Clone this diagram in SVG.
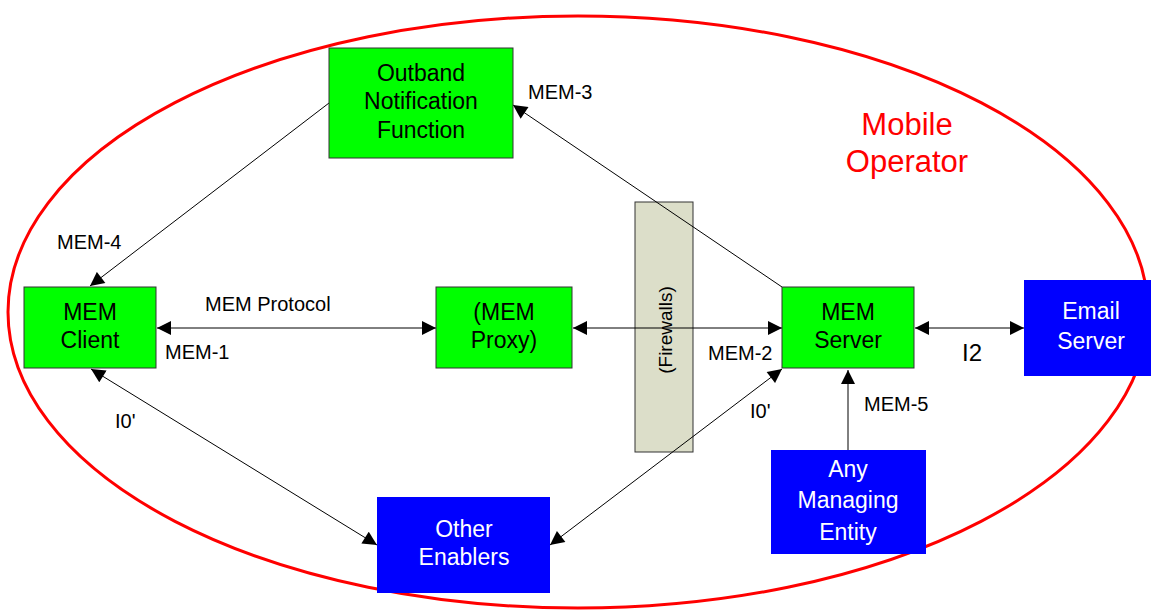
<svg xmlns="http://www.w3.org/2000/svg" width="1151" height="610" viewBox="0 0 1151 610">
<defs>
<marker id="ah" viewBox="0 0 10 10" refX="10" refY="5" markerWidth="15" markerHeight="14" markerUnits="userSpaceOnUse" orient="auto-start-reverse">
<path d="M0,0 L10,5 L0,10 z" fill="#000"/>
</marker>
<style>
.g{fill:#00ff00;stroke:#333;stroke-width:1}
.b{fill:#0000ff;stroke:none}
.t{font-family:"Liberation Sans",Arial,sans-serif;font-size:23px;text-anchor:middle;fill:#000}
.w{fill:#fff}
.l{font-family:"Liberation Sans",Arial,sans-serif;font-size:20px;fill:#000}
.c{fill:none;stroke:#000;stroke-width:1}
</style>
</defs>
<rect width="1151" height="610" fill="#fff"/>
<ellipse cx="578" cy="312" rx="570" ry="296" fill="none" stroke="#ff0000" stroke-width="3"/>
<text x="907" y="135" class="t" style="fill:#ff0000;font-size:31px">Mobile</text>
<text x="907" y="172" class="t" style="fill:#ff0000;font-size:31px">Operator</text>

<g id="firewalls">
<rect x="635" y="202" width="58" height="250" fill="#dcdec9" stroke="#333"/>
<text transform="translate(672,330) rotate(-90)" class="l" style="font-size:19px" text-anchor="middle">(Firewalls)</text>
</g>

<g id="connectors">
<line class="c" x1="329" y1="103" x2="90" y2="286" marker-end="url(#ah)"/>
<line class="c" x1="782" y1="287" x2="513" y2="105" marker-end="url(#ah)"/>
<line class="c" x1="157" y1="328" x2="436" y2="328" marker-start="url(#ah)" marker-end="url(#ah)"/>
<line class="c" x1="573" y1="328" x2="782" y2="328" marker-start="url(#ah)" marker-end="url(#ah)"/>
<line class="c" x1="91" y1="369" x2="377" y2="545" marker-start="url(#ah)" marker-end="url(#ah)"/>
<line class="c" x1="782" y1="369" x2="550" y2="545" marker-start="url(#ah)" marker-end="url(#ah)"/>
<line class="c" x1="848" y1="450" x2="848" y2="370" marker-end="url(#ah)"/>
<line class="c" x1="915" y1="328" x2="1024" y2="328" marker-start="url(#ah)" marker-end="url(#ah)"/>
<text x="528" y="99" class="l">MEM-3</text>
<text x="57" y="249" class="l">MEM-4</text>
<text x="205" y="311" class="l">MEM Protocol</text>
<text x="165" y="359" class="l">MEM-1</text>
<text x="708" y="360" class="l">MEM-2</text>
<text x="115" y="428" class="l">I0'</text>
<text x="750" y="418" class="l">I0'</text>
<text x="864" y="411" class="l">MEM-5</text>
<text x="962" y="361" class="l" style="font-size:24px">I2</text>
</g>

<g id="outband">
<rect class="g" x="329" y="48" width="184" height="110"/>
<text x="421" y="81" class="t">Outband</text>
<text x="421" y="109" class="t">Notification</text>
<text x="421" y="138" class="t">Function</text>
</g>
<g id="mem-client">
<rect class="g" x="24" y="287" width="132" height="81"/>
<text x="90" y="320" class="t">MEM</text>
<text x="90" y="348" class="t">Client</text>
</g>
<g id="mem-proxy">
<rect class="g" x="436" y="287" width="136" height="81"/>
<text x="504" y="320" class="t">(MEM</text>
<text x="504" y="348" class="t">Proxy)</text>
</g>
<g id="mem-server">
<rect class="g" x="782" y="287" width="132" height="81"/>
<text x="848" y="320" class="t">MEM</text>
<text x="848" y="348" class="t">Server</text>
</g>
<g id="email-server">
<rect class="b" x="1024" y="280" width="127" height="96"/>
<text x="1091" y="319" class="t w">Email</text>
<text x="1091" y="349" class="t w">Server</text>
</g>
<g id="other-enablers">
<rect class="b" x="377" y="497" width="173" height="96"/>
<text x="464" y="537" class="t w">Other</text>
<text x="464" y="565" class="t w">Enablers</text>
</g>
<g id="managing-entity">
<rect class="b" x="771" y="450" width="155" height="104"/>
<text x="848" y="477" class="t w">Any</text>
<text x="848" y="508" class="t w">Managing</text>
<text x="848" y="540" class="t w">Entity</text>
</g>
</svg>
